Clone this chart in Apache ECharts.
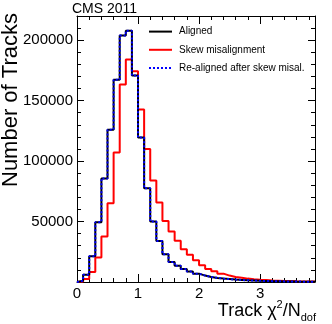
<!DOCTYPE html>
<html>
<head>
<meta charset="utf-8">
<script src="https://cdn.jsdelivr.net/npm/echarts@6/dist/echarts.min.js"></script>
<style>
  html, body { margin: 0; padding: 0; background: #fff; }
  #chart { width: 332px; height: 324px; }
</style>
</head>
<body>
<div id="chart"></div>
<script>
  // track chi2/ndof, bins of 0.1 from 0 to 3.9
  var binWidth = 0.1;
  var xMax = 3.9;
  var yMax = 220000;
  var seriesNames = ['Aligned', 'Skew misalignment', 'Re-aligned after skew misal.'];

  var aligned = [1000, 6000, 21200, 49500, 85700, 126000, 167300, 203800, 207900, 170800,
    119500, 77500, 50000, 34000, 23000, 16500, 13500, 10800, 8600, 6900,
    5300, 4200, 3400, 2800, 2400, 2000, 1700, 1400, 1200, 1000,
    850, 700, 600, 500, 420, 350, 300, 250, 200];
  var skewMisaligned = [500, 2500, 8300, 20300, 37600, 65200, 107200, 163400, 184000, 174400,
    142600, 110000, 84000, 65700, 50500, 41800, 34100, 27000, 22600, 17900,
    13800, 10800, 8800, 6900, 5300, 4200, 3600, 2800, 2300, 1900,
    1600, 1300, 1100, 900, 750, 600, 500, 420, 350];
  var reAligned = [1000, 6000, 21200, 49500, 85700, 126000, 167300, 203800, 207900, 170800,
    119500, 77500, 50000, 34000, 23000, 16500, 13500, 10800, 8600, 6900,
    5300, 4200, 3400, 2800, 2400, 2000, 1700, 1400, 1200, 1000,
    850, 700, 600, 500, 420, 350, 300, 250, 200];

  // bin contents -> step outline points at bin low edges
  function toSteps(values) {
    var pts = [[0, 0]];
    values.forEach(function (v, i) {
      pts.push([+(i * binWidth).toFixed(2), v]);
    });
    pts.push([+(values.length * binWidth).toFixed(2), values[values.length - 1]]);
    return pts;
  }

  var font = 'Liberation Sans, Arial, Helvetica, sans-serif';

  function xAx(pos, interval, tickLen, labels) {
    return {
      type: 'value', position: pos, min: 0, max: xMax, interval: interval,
      axisLine: { show: labels, onZero: false, lineStyle: { color: '#000', width: 1 } },
      axisTick: { show: true, inside: true, length: tickLen, lineStyle: { color: '#000', width: 1 } },
      axisLabel: {
        show: labels && pos === 'bottom', showMaxLabel: false, margin: 4,
        color: '#000', fontSize: 15, fontFamily: font,
        formatter: function (v) { return String(v); }
      },
      splitLine: { show: false }
    };
  }

  function yAx(pos, interval, tickLen, labels) {
    return {
      type: 'value', position: pos, min: 0, max: yMax, interval: interval,
      axisLine: { show: labels, onZero: false, lineStyle: { color: '#000', width: 1 } },
      axisTick: { show: true, inside: true, length: tickLen, lineStyle: { color: '#000', width: 1 } },
      axisLabel: {
        show: labels && pos === 'left', showMinLabel: false, showMaxLabel: false, margin: 4,
        color: '#000', fontSize: 15, fontFamily: font,
        formatter: function (v) { return String(v); }
      },
      splitLine: { show: false }
    };
  }

  var myChart = echarts.init(document.getElementById('chart'));
  myChart.setOption({
    animation: false,
    backgroundColor: '#fff',
    grid: { left: 77, right: 17, top: 16, bottom: 42 },
    xAxis: [
      xAx('bottom', 1, 8, true),
      xAx('bottom', 0.2, 4, false),
      xAx('top', 1, 8, true),
      xAx('top', 0.2, 4, false)
    ],
    yAxis: [
      yAx('left', 50000, 7, true),
      yAx('left', 10000, 4, false),
      yAx('right', 50000, 7, true),
      yAx('right', 10000, 4, false)
    ],
    legend: {
      orient: 'vertical', left: 148, top: 26, padding: 0,
      itemWidth: 23, itemHeight: 14, itemGap: 7,
      itemStyle: { opacity: 0 },
      textStyle: { color: '#000', fontSize: 10, fontFamily: font, padding: [0, 0, 0, 2] },
      data: seriesNames
    },
    graphic: [
      { type: 'text', left: 72, top: 2,
        style: { text: 'CMS 2011', fontSize: 14, fontFamily: font, fill: '#000' } },
      { type: 'text', x: 11, y: 13, rotation: Math.PI / 2,
        style: { text: 'Number of Tracks', fontSize: 22, fontFamily: font, fill: '#000',
          align: 'right', verticalAlign: 'middle' } },
      { type: 'text', right: 16, bottom: 1,
        style: {
          text: '{a|Track χ}{sup|2}{a|/N}{sub|dof}',
          fill: '#000', fontFamily: font,
          rich: {
            a: { fontSize: 18, lineHeight: 24, fontFamily: font, verticalAlign: 'middle' },
            sup: { fontSize: 11, lineHeight: 11, fontFamily: font, verticalAlign: 'top' },
            sub: { fontSize: 11, lineHeight: 11, fontFamily: font, verticalAlign: 'bottom' }
          }
        } }
    ],
    series: [
      {
        name: seriesNames[1], type: 'line', step: 'end', symbol: 'none',
        xAxisIndex: 0, yAxisIndex: 0, z: 2,
        lineStyle: { color: '#ff0000', width: 2 }, itemStyle: { color: '#ff0000' },
        data: toSteps(skewMisaligned)
      },
      {
        name: seriesNames[0], type: 'line', step: 'end', symbol: 'none',
        xAxisIndex: 0, yAxisIndex: 0, z: 3,
        lineStyle: { color: '#000000', width: 2 }, itemStyle: { color: '#000000' },
        data: toSteps(aligned)
      },
      {
        name: seriesNames[2], type: 'line', step: 'end', symbol: 'none',
        xAxisIndex: 0, yAxisIndex: 0, z: 4,
        lineStyle: { color: '#0000ff', width: 2, type: [2, 2] }, itemStyle: { color: '#0000ff' },
        data: toSteps(reAligned)
      }
    ]
  });
</script>
</body>
</html>
